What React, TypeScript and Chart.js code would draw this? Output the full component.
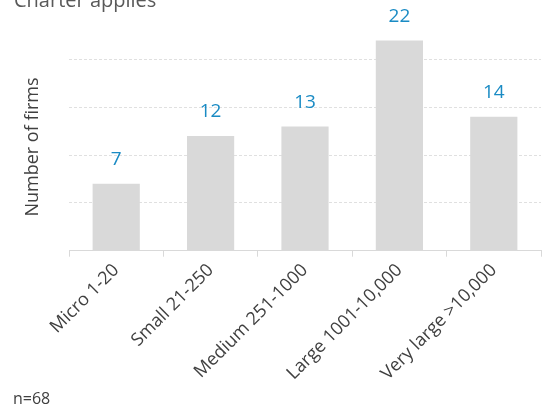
import React, { useEffect, useRef } from "react";
import { Chart, registerables } from "chart.js";

Chart.register(...registerables);

const categories = ["Micro 1-20", "Small 21-250", "Medium 251-1000", "Large 1001-10,000", "Very large >10,000"];
const firmCounts = [7, 12, 13, 22, 14];
const chartTitle = "Charter applies";
const yAxisTitle = "Number of firms";
const sampleNote = "n=68";

const FONT = "'Open Sans', sans-serif";

const textPlugin = {
  id: "textPlugin",
  afterDraw(chart: any) {
    const ctx = chart.ctx;
    ctx.save();
    // title (cut off at top)
    ctx.fillStyle = "#595959";
    ctx.font = `20px ${FONT}`;
    ctx.textAlign = "left";
    ctx.textBaseline = "alphabetic";
    ctx.fillText(chartTitle, 14, 7);
    // y title
    ctx.save();
    ctx.translate(33, 147);
    ctx.rotate(-Math.PI / 2);
    ctx.fillStyle = "#404040";
    ctx.font = `18px ${FONT}`;
    ctx.textAlign = "center";
    ctx.textBaseline = "middle";
    ctx.fillText(yAxisTitle, 0, 0);
    ctx.restore();
    // note
    ctx.fillStyle = "#404040";
    ctx.font = `16px ${FONT}`;
    ctx.textAlign = "left";
    ctx.textBaseline = "middle";
    ctx.fillText(sampleNote, 13, 399);
    // data labels
    const meta = chart.getDatasetMeta(0);
    ctx.fillStyle = "#1a8bc4";
    ctx.font = `19px ${FONT}`;
    ctx.textAlign = "center";
    ctx.textBaseline = "middle";
    meta.data.forEach((bar: any, i: number) => {
      ctx.fillText(String(firmCounts[i]), bar.x, bar.y - 24);
    });
    ctx.restore();
  },
};

export default function App() {
  const ref = useRef<HTMLCanvasElement>(null);
  useEffect(() => {
    if (!ref.current) return;
    const chart = new Chart(ref.current, {
      type: "bar",
      data: {
        labels: categories,
        datasets: [
          {
            data: firmCounts,
            backgroundColor: "#d9d9d9",
            barPercentage: 0.5,
            categoryPercentage: 1,
          },
        ],
      },
      options: {
        animation: false,
        responsive: false,
        maintainAspectRatio: false,
        layout: { padding: { top: 11.7, right: 1, left: 0, bottom: 0 } },
        plugins: { legend: { display: false }, tooltip: { enabled: false }, title: { display: false } },
        scales: {
          x: {
            afterFit: (s: any) => {
              s.height = 410 - 250.7;
            },
            grid: {
              display: true,
              drawOnChartArea: false,
              drawTicks: true,
              tickLength: 6,
              color: "#d9d9d9",
              offset: true,
            },
            border: { display: true, color: "#d9d9d9" },
            ticks: {
              maxRotation: 45,
              minRotation: 45,
              color: "#404040",
              font: { family: FONT, size: 18 },
              padding: 3,
            },
          },
          y: {
            min: 0,
            max: 25,
            afterFit: (s: any) => {
              s.width = 69;
            },
            ticks: { display: false, stepSize: 5 },
            grid: {
              color: (c: any) => (c.tick && c.tick.value > 0 && c.tick.value <= 20 ? "#e0e0e0" : "rgba(0,0,0,0)"),
              drawTicks: false,
            },
            border: { display: false, dash: [3, 2] },
          },
        },
      },
      plugins: [textPlugin],
    });
    return () => chart.destroy();
  }, []);
  return (
    <div style={{ position: "fixed", left: 0, top: 0, width: 542, height: 410, background: "#fff" }}>
      <canvas ref={ref} width={542} height={410} />
    </div>
  );
}
